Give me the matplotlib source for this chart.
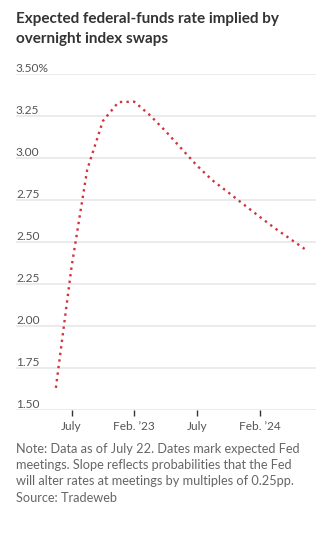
import matplotlib
matplotlib.use("Agg")
import matplotlib.pyplot as plt

# Expected fed-funds rate at each upcoming Fed meeting (first point = current, July 22)
meetings = ["Now", "Jul '22", "Sep '22", "Nov '22", "Dec '22", "Feb '23", "Mar '23",
            "May '23", "Jun '23", "Jul '23", "Sep '23", "Nov '23", "Dec '23",
            "Jan '24", "Mar '24", "May '24", "Jun '24"]
rate = [1.63, 2.35, 2.93, 3.22, 3.333, 3.335, 3.255, 3.16, 3.057, 2.955,
        2.866, 2.795, 2.722, 2.65, 2.58, 2.515, 2.45]

tick_meetings = ["Jul '22", "Feb '23", "Jul '23", "Jan '24"]
tick_labels = ["July", "Feb. \u201923", "July", "Feb. \u201924"]
y_ticks = [1.50, 1.75, 2.00, 2.25, 2.50, 2.75, 3.00, 3.25, 3.50]
y_labels = ["1.50", "1.75", "2.00", "2.25", "2.50", "2.75", "3.00", "3.25", "3.50%"]

plt.rcParams["font.family"] = ["Lato", "DejaVu Sans"]

fig = plt.figure(figsize=(3.25, 5.39), dpi=100)
fig.patch.set_facecolor("white")
ax = fig.add_axes([0.049, 0.2399, 0.923, 0.6228])

# x = meeting index, "Now" sits one step before the July meeting
xs = [i - 1 for i in range(len(meetings))]
ax.plot(xs, rate, color="#d3323e", linewidth=1.7, linestyle=(0, (1, 1.8)),
        dash_capstyle="butt", zorder=3)

ax.set_xlim(-3.55, 15.6)
ax.set_ylim(1.50, 3.50)

for v, lab in zip(y_ticks, y_labels):
    ax.axhline(v, color="#ebebeb", linewidth=1.4, zorder=1)
    ax.text(0, v, lab, transform=ax.get_yaxis_transform(), ha="left",
            va="bottom", fontsize=8.6, color="#555555")

for s in ax.spines.values():
    s.set_visible(False)
ax.set_yticks([])
ax.set_xticks([meetings.index(m) - 1 for m in tick_meetings])
ax.set_xticklabels(tick_labels, fontsize=8.6, color="#555555")
ax.tick_params(axis="x", length=4, width=1, color="#333333", pad=4)

fig.text(0.049, 1 - 18.5 / 539, "Expected federal-funds rate implied by",
         fontsize=11, fontweight="bold", color="#333333", va="center")
fig.text(0.049, 1 - 39.5 / 539, "overnight index swaps",
         fontsize=11, fontweight="bold", color="#333333", va="center")

note = ("Note: Data as of July 22. Dates mark expected Fed\n"
        "meetings. Slope reflects probabilities that the Fed\n"
        "will alter rates at meetings by multiples of 0.25pp.\n"
        "Source: Tradeweb")
fig.text(0.049, 1 - 443 / 539, note, fontsize=9.2, color="#666666",
         va="top", linespacing=1.42)

fig.savefig("out.png", dpi=100)
